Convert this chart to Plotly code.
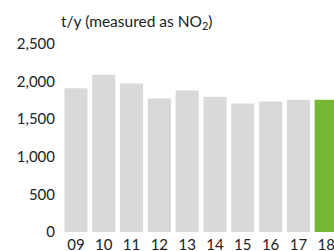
import plotly.graph_objects as go

years = ["09", "10", "11", "12", "13", "14", "15", "16", "17", "18"]
values = [1910, 2090, 1975, 1775, 1880, 1800, 1710, 1735, 1760, 1760]
colors = ["#d9d9d9"] * 9 + ["#76b733"]
y_ticks = [0, 500, 1000, 1500, 2000, 2500]

FONT = "Lato, 'Open Sans', sans-serif"

fig = go.Figure(go.Bar(
    x=list(range(len(years))), y=values,
    marker=dict(color=colors, line=dict(width=0)),
    hoverinfo="skip",
))

fig.update_layout(
    width=334, height=251,
    margin=dict(l=62, r=0, t=44, b=19),
    paper_bgcolor="white", plot_bgcolor="white",
    bargap=0.17,
    showlegend=False,
    font=dict(family=FONT, size=15, color="#222222"),
    xaxis=dict(
        range=[-0.5, 9.28],
        tickmode="array", tickvals=list(range(len(years))), ticktext=years,
        showgrid=False, zeroline=False, showline=False, ticks="",
        ticklabelstandoff=2,
        ticklabeloverflow="allow",
        automargin=False,
        fixedrange=True,
    ),
    yaxis=dict(
        range=[0, 2500],
        tickmode="array", tickvals=y_ticks, tickformat=",",
        showgrid=False, zeroline=False, showline=False, ticks="",
        ticklabelstandoff=6,
        automargin=False,
        fixedrange=True,
    ),
    annotations=[dict(
        text="t/y (measured as NO<sub>2</sub>)",
        xref="paper", yref="paper",
        x=-0.012, y=1 + (44 - 22) / 188,
        xanchor="left", yanchor="middle",
        showarrow=False,
        font=dict(family=FONT, size=15.5, color="#222222"),
    )],
)

fig.write_html(
    "out.html",
    config={"displayModeBar": False, "staticPlot": True},
    post_script="document.body.style.margin='0';document.body.style.overflow='hidden';",
)
